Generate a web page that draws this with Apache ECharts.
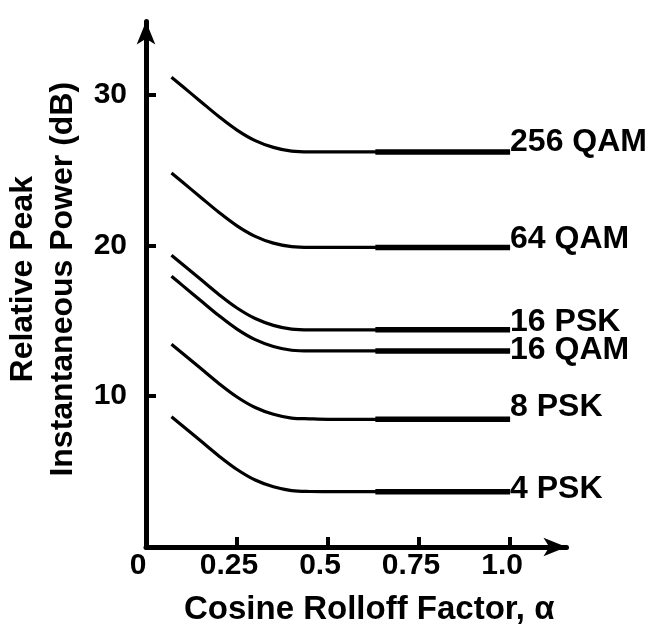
<!DOCTYPE html>
<html>
<head>
<meta charset="utf-8">
<script src="https://cdn.jsdelivr.net/npm/echarts@6/dist/echarts.min.js"></script>
<style>
html,body{margin:0;padding:0;background:#fff;}
#chart{width:647px;height:624px;}
</style>
</head>
<body>
<div id="chart"></div>
<script>
// ---- data ----
const alpha = [0.07, 0.1, 0.15, 0.2, 0.25, 0.3, 0.35, 0.4, 0.45, 0.5, 0.63, 0.75, 1.0];
const seriesNames = ['256 QAM', '64 QAM', '16 PSK', '16 QAM', '8 PSK', '4 PSK'];
const qam256 = [31.15, 30.55, 29.55, 28.55, 27.65, 26.95, 26.5, 26.25, 26.2, 26.2, 26.2, 26.2, 26.2];
const qam64  = [24.8, 24.2, 23.2, 22.2, 21.3, 20.6, 20.15, 19.92, 19.87, 19.87, 19.87, 19.87, 19.87];
const psk16  = [19.35, 18.75, 17.75, 16.75, 15.85, 15.15, 14.7, 14.45, 14.4, 14.4, 14.4, 14.4, 14.4];
const qam16  = [17.95, 17.35, 16.35, 15.35, 14.45, 13.75, 13.3, 13.05, 13.0, 13.0, 13.0, 13.0, 13.0];
const psk8   = [13.45, 12.85, 11.85, 10.85, 9.95, 9.25, 8.8, 8.55, 8.5, 8.47, 8.47, 8.47, 8.47];
const psk4   = [8.64, 8.04, 7.04, 6.04, 5.14, 4.44, 3.99, 3.74, 3.68, 3.67, 3.67, 3.67, 3.67];
const xTickValues = [0, 0.25, 0.5, 0.75, 1.0];
const xTickLabels = ['0', '0.25', '0.5', '0.75', '1.0'];
const yTickValues = [10, 20, 30];
const yTickLabels = ['10', '20', '30'];

// ---- style ----
const allValues = [qam256, qam64, psk16, qam16, psk8, psk4];
const labelOffsetY = [-10, -8, -8, -1, -12, -2];
const thickStartIndex = 10;
const FONT = 'Liberation Sans';

const series = [];
allValues.forEach(function (vals, k) {
  series.push({
    name: seriesNames[k],
    type: 'line',
    data: alpha.map(function (a, i) { return [a, vals[i]]; }),
    smooth: 0.35,
    symbol: 'none',
    lineStyle: { color: '#000', width: 3.2 },
    endLabel: {
      show: true,
      formatter: seriesNames[k],
      distance: 0,
      offset: [0, labelOffsetY[k]],
      color: '#000',
      fontFamily: FONT,
      fontWeight: 'bold',
      fontSize: 32
    },
    z: 3
  });
  series.push({
    name: seriesNames[k] + ' ',
    type: 'line',
    data: alpha.slice(thickStartIndex).map(function (a, i) { return [a, vals[thickStartIndex + i]]; }),
    symbol: 'none',
    lineStyle: { color: '#000', width: 5.5 },
    z: 4
  });
});

const chart = echarts.init(document.getElementById('chart'), null, { renderer: 'canvas' });
chart.setOption({
  animation: false,
  backgroundColor: '#fff',
  grid: { left: 146, right: 80.5, top: 21.5, bottom: 77, containLabel: false, outerBoundsMode: 'none' },
  xAxis: {
    type: 'value',
    min: 0,
    max: 1.155,
    interval: 0.25,
    name: 'Cosine Rolloff Factor, \u03B1',
    nameLocation: 'middle',
    nameGap: 46,
    nameTextStyle: { color: '#000', fontFamily: FONT, fontWeight: 'bold', fontSize: 33, padding: [0, 0, 0, 26] },
    axisLine: { show: true, symbol: ['none', 'arrow'], symbolSize: [14, 23], lineStyle: { color: '#000', width: 5 } },
    axisTick: { show: true, inside: true, length: 10, customValues: xTickValues.slice(1), lineStyle: { color: '#000', width: 4 } },
    axisLabel: {
      customValues: xTickValues,
      formatter: function (v) { const i = xTickValues.indexOf(v); return i >= 0 ? xTickLabels[i] : ''; },
      margin: 4,
      color: '#000', fontFamily: FONT, fontWeight: 'bold', fontSize: 30,
      padding: [0, 16, 0, 0]
    },
    splitLine: { show: false }
  },
  yAxis: {
    type: 'value',
    min: 0,
    max: 34.85,
    interval: 10,
    name: 'Relative Peak\nInstantaneous Power (dB)',
    nameLocation: 'middle',
    nameGap: 62,
    nameRotate: 90,
    nameTextStyle: { color: '#000', fontFamily: FONT, fontWeight: 'bold', fontSize: 32, lineHeight: 40, padding: [0, 0, 0, 10] },
    axisLine: { show: true, symbol: ['none', 'arrow'], symbolSize: [14, 23], lineStyle: { color: '#000', width: 5 } },
    axisTick: { show: true, inside: true, length: 10, customValues: yTickValues, lineStyle: { color: '#000', width: 4 } },
    axisLabel: {
      customValues: yTickValues,
      formatter: function (v) { const i = yTickValues.indexOf(v); return i >= 0 ? yTickLabels[i] : ''; },
      margin: 19,
      color: '#000', fontFamily: FONT, fontWeight: 'bold', fontSize: 30
    },
    splitLine: { show: false }
  },
  series: series
});
</script>
</body>
</html>
